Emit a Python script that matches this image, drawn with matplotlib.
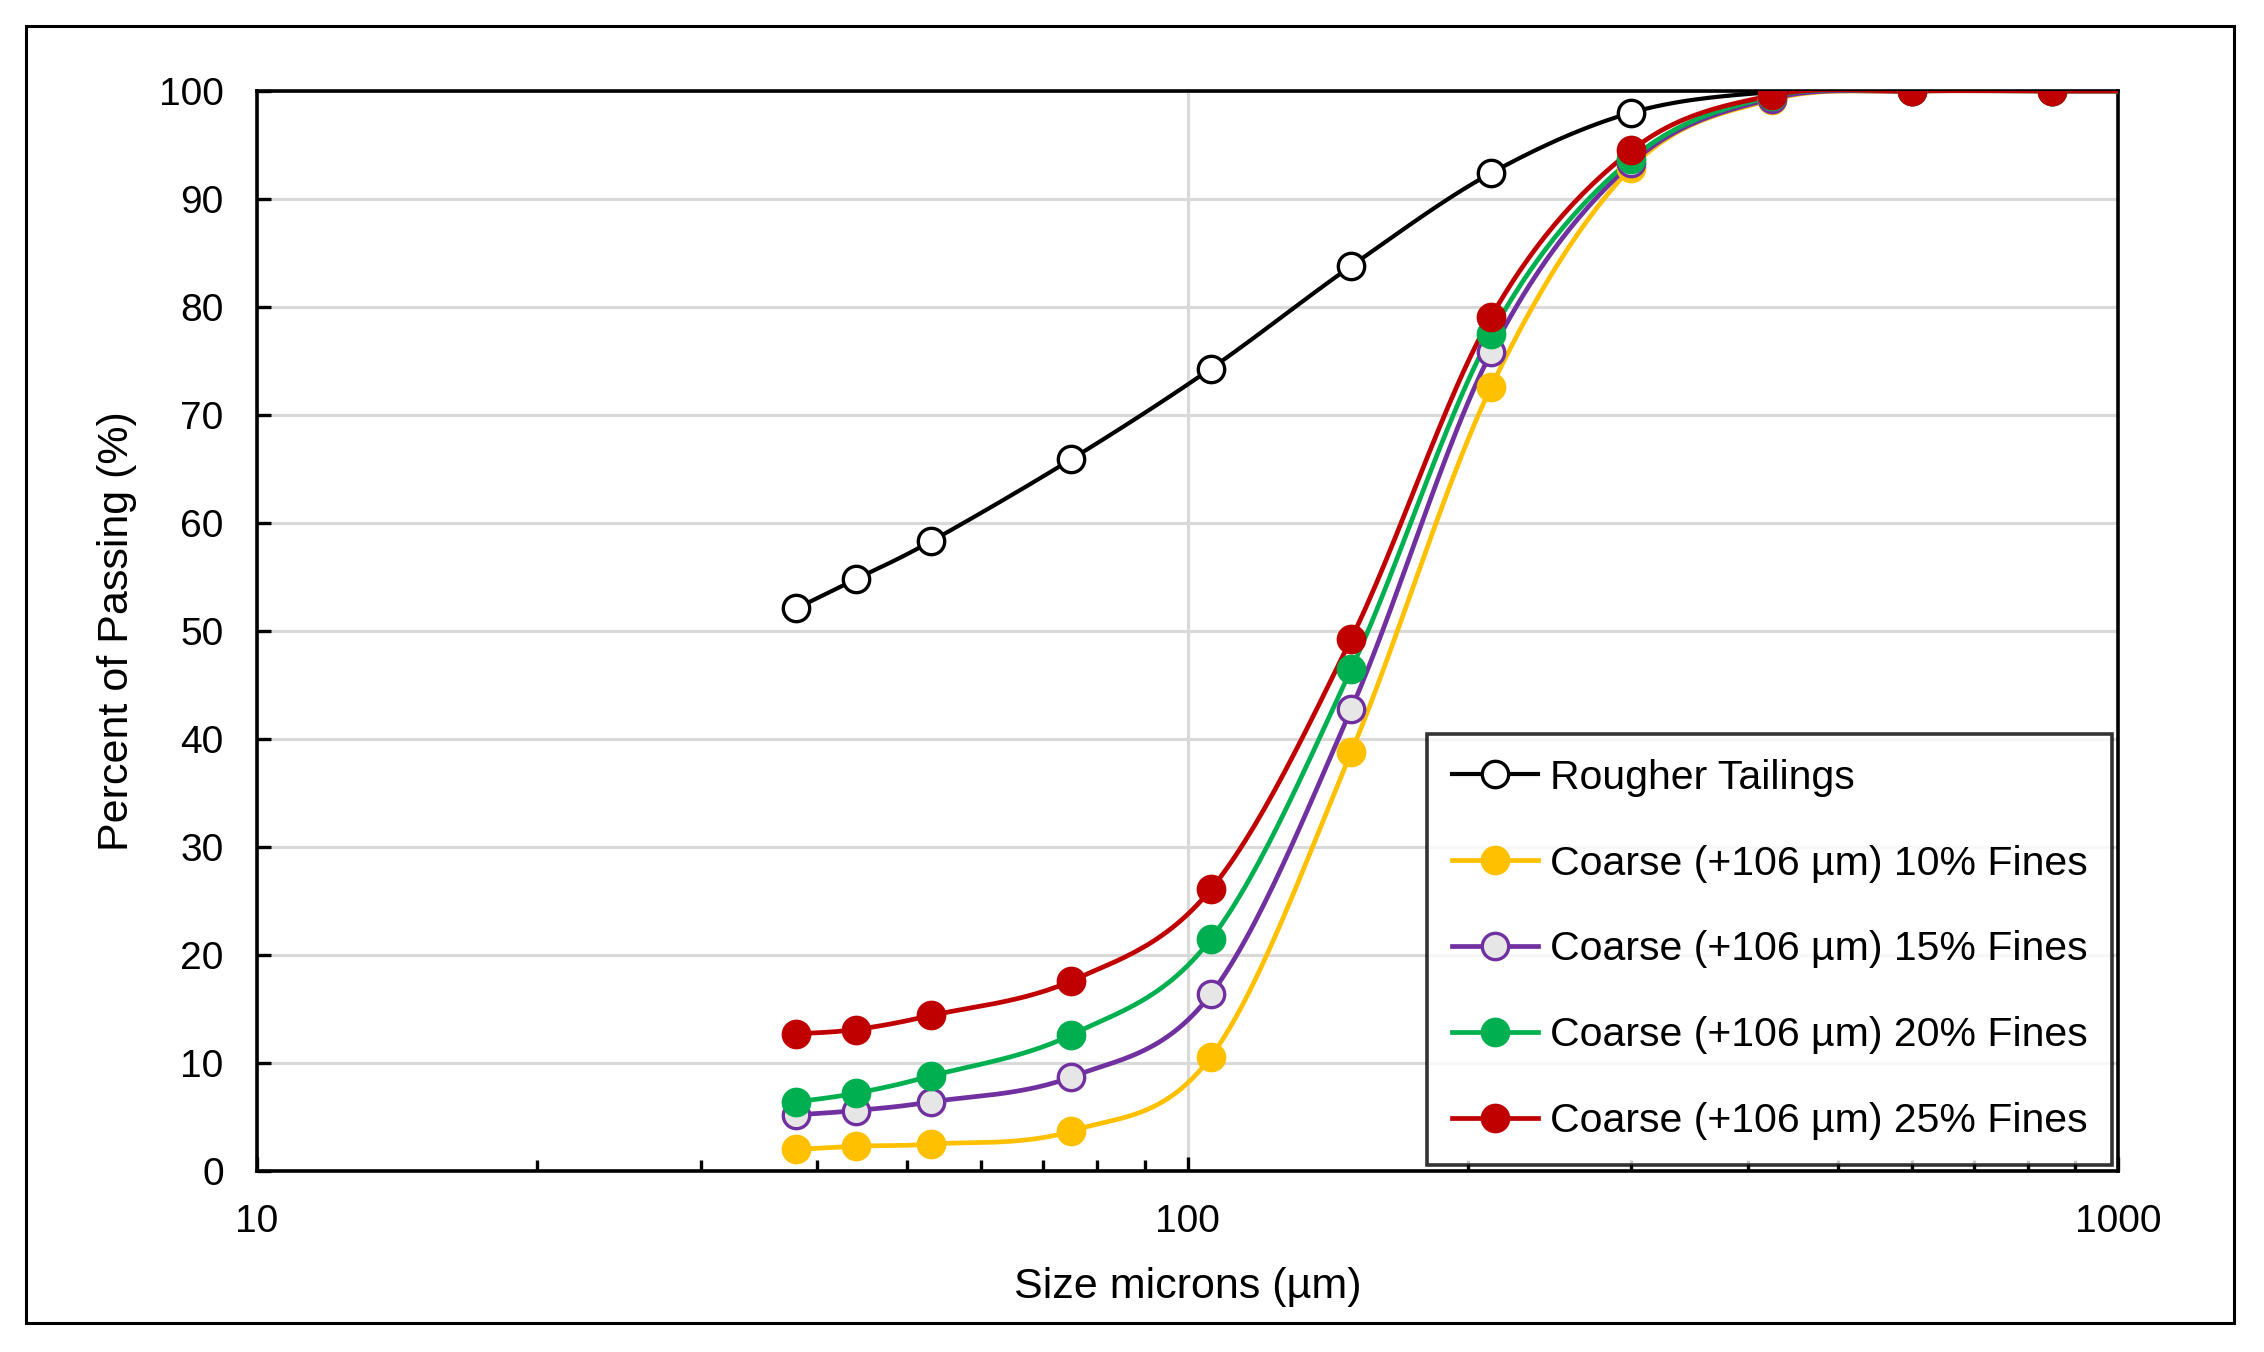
import numpy as np
import matplotlib
matplotlib.use("Agg")
import matplotlib.pyplot as plt
from matplotlib.ticker import LogLocator, NullFormatter, FixedLocator, FixedFormatter
from matplotlib.patches import Rectangle

plt.rcParams['font.family'] = ['Liberation Sans', 'DejaVu Sans']

sizes = [38, 44, 53, 75, 106, 150, 212, 300, 425, 600, 850, 1180]
rougher = [52.1, 54.8, 58.3, 65.9, 74.3, 83.8, 92.4, 98.0, 99.9, 100, 100, 100]
fines10 = [2.0, 2.3, 2.5, 3.7, 10.6, 38.8, 72.6, 92.9, 99.2, 100, 100, 100]
fines15 = [5.2, 5.6, 6.4, 8.7, 16.4, 42.8, 75.8, 93.3, 99.3, 100, 100, 100]
fines20 = [6.4, 7.2, 8.8, 12.6, 21.5, 46.5, 77.5, 93.7, 99.5, 100, 100, 100]
fines25 = [12.7, 13.1, 14.4, 17.6, 26.1, 49.3, 79.1, 94.5, 99.6, 100, 100, 100]

labels = ["Rougher Tailings",
          "Coarse (+106 µm) 10% Fines",
          "Coarse (+106 µm) 15% Fines",
          "Coarse (+106 µm) 20% Fines",
          "Coarse (+106 µm) 25% Fines"]
series = [rougher, fines10, fines15, fines20, fines25]
line_colors = ["#000000", "#FFC000", "#7030A0", "#00B050", "#C00000"]
face_colors = ["#FFFFFF", "#FFC000", "#E7E6E6", "#00B050", "#C00000"]
line_widths = [3.0, 3.4, 3.4, 3.4, 3.4]

W, H = 2264, 1352
fig = plt.figure(figsize=(W / 100, H / 100), dpi=100)
fig.patch.set_facecolor("white")
ax = fig.add_axes([257 / W, 1 - 1171 / H, (2118 - 257) / W, (1171 - 91) / H])
ax.set_xscale("log")
ax.set_xlim(10, 1000)
ax.set_ylim(0, 100)

# outer border
fig.patches.append(Rectangle((26 / W, 1 - 1323 / H), (2234 - 26) / W, (1323 - 26) / H,
                             transform=fig.transFigure, fill=False, edgecolor="black",
                             linewidth=2.2, zorder=0))


def smooth(xs, ys, n=30):
    pts = ax.transData.transform(np.column_stack([xs, ys]))
    out = [pts[0]]
    P = np.vstack([pts[0], pts, pts[-1]])
    for i in range(1, len(P) - 2):
        p0, p1, p2, p3 = P[i - 1], P[i], P[i + 1], P[i + 2]
        c1 = p1 + (p2 - p0) / 6.0
        c2 = p2 - (p3 - p1) / 6.0
        t = np.linspace(0, 1, n)[1:, None]
        seg = ((1 - t) ** 3) * p1 + 3 * ((1 - t) ** 2) * t * c1 + 3 * (1 - t) * t ** 2 * c2 + t ** 3 * p2
        out.extend(seg)
    out = np.array(out)
    d = ax.transData.inverted().transform(out)
    return d[:, 0], d[:, 1]


MS = 19
for ys, lab, lc, fc, lw in zip(series, labels, line_colors, face_colors, line_widths):
    sx, sy = smooth(sizes, ys)
    ax.plot(sx, sy, color=lc, linewidth=lw, zorder=3, solid_capstyle="round")
    ax.plot(sizes, ys, linestyle="none", marker="o", markersize=MS,
            markerfacecolor=fc, markeredgecolor=lc, markeredgewidth=2.4, zorder=4)
    ax.plot([], [], color=lc, linewidth=lw, marker="o", markersize=MS,
            markerfacecolor=fc, markeredgecolor=lc, markeredgewidth=2.4, label=lab)

ax.set_yticks(np.arange(0, 101, 10))
ax.yaxis.grid(True, color="#D9D9D9", linewidth=2.2, zorder=0)
ax.xaxis.grid(True, which="major", color="#D9D9D9", linewidth=2.2, zorder=0)
ax.set_axisbelow(True)
ax.xaxis.set_major_locator(FixedLocator([10, 100, 1000]))
ax.xaxis.set_major_formatter(FixedFormatter(["10", "100", "1000"]))
ax.xaxis.set_minor_locator(LogLocator(base=10, subs=np.arange(2, 10)))
ax.xaxis.set_minor_formatter(NullFormatter())

ax.tick_params(axis="both", which="major", direction="in", length=10, width=2.4,
               labelsize=28, colors="black")
ax.tick_params(axis="x", which="major", pad=24)
ax.tick_params(axis="y", which="major", pad=24)
ax.tick_params(axis="x", which="minor", direction="in", length=8, width=2.4)
ax.tick_params(top=False, right=False, which="both")
for s in ax.spines.values():
    s.set_linewidth(2.6)
    s.set_color("black")

ax.set_xlabel("Size microns (µm)", fontsize=31, labelpad=19)
ax.set_ylabel("Percent of Passing (%)", fontsize=31, labelpad=16)

leg = ax.legend(loc="upper left", bbox_to_anchor=(1427 / W, 1 - 734 / H),
                bbox_transform=fig.transFigure, fontsize=29.5, frameon=True,
                fancybox=False, edgecolor="black", handlelength=2.1,
                labelspacing=1.17, borderpad=0.6, handletextpad=0.3,
                borderaxespad=0)
leg.get_frame().set_linewidth(2.6)
leg.set_zorder(10)

fig.savefig("out.png", dpi=100, facecolor="white")
